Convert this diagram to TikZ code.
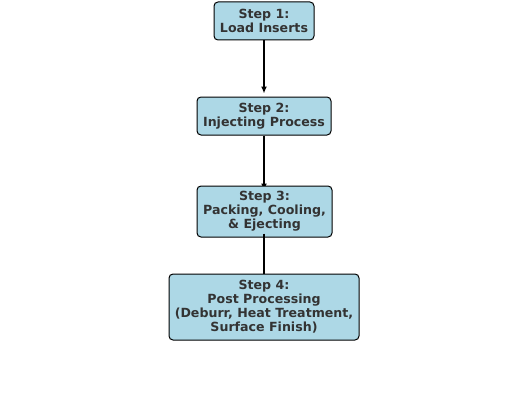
\documentclass[tikz,border=0pt]{standalone}
\usepackage{fontspec}
\setmainfont{DejaVu Sans}
\usetikzlibrary{arrows.meta,backgrounds}
\definecolor{boxfill}{HTML}{ADD8E6}
\definecolor{txt}{HTML}{333333}
\tikzset{
  stepbox/.style={draw=black, line width=1pt, fill=boxfill, rounded corners=4pt,
    align=center, font=\fontsize{12.6}{14}\selectfont\bfseries, text=txt,
    inner sep=0pt},
  conn/.style={draw=black, line width=1.6pt},
  tip/.style={-{Latex[length=7pt,width=6pt]}}
}
\begin{document}
\begin{tikzpicture}[x=1pt,y=-1pt]
\useasboundingbox (0,0) rectangle (530,412);
\node[stepbox, minimum width=100pt, minimum height=38pt] (b1) at (264,21) {Step 1:\\Load Inserts};
\node[stepbox, minimum width=134pt, minimum height=38pt] (b2) at (264,116) {Step 2:\\Injecting Process};
\node[stepbox, minimum width=135pt, minimum height=51pt] (b3) at (264.5,211.5) {Step 3:\\Packing, Cooling,\\\& Ejecting};
\node[stepbox, minimum width=190pt, minimum height=66pt] (b4) at (264,307) {Step 4:\\Post Processing\\(Deburr, Heat Treatment,\\Surface Finish)};
\coordinate (e1) at ([yshift=3pt]b2.north);
\coordinate (e2) at ([yshift=-5pt]b2.south |- b3.north);
\coordinate (s3) at ([yshift=4pt]b2.south |- b3.south);
\draw[conn, tip] (b1.south) -- (e1);
\begin{scope}[on background layer]
\draw[conn, tip] (b2.south) -- (e2);
\end{scope}
\draw[conn] (s3) -- (b4.north);
\end{tikzpicture}
\end{document}
